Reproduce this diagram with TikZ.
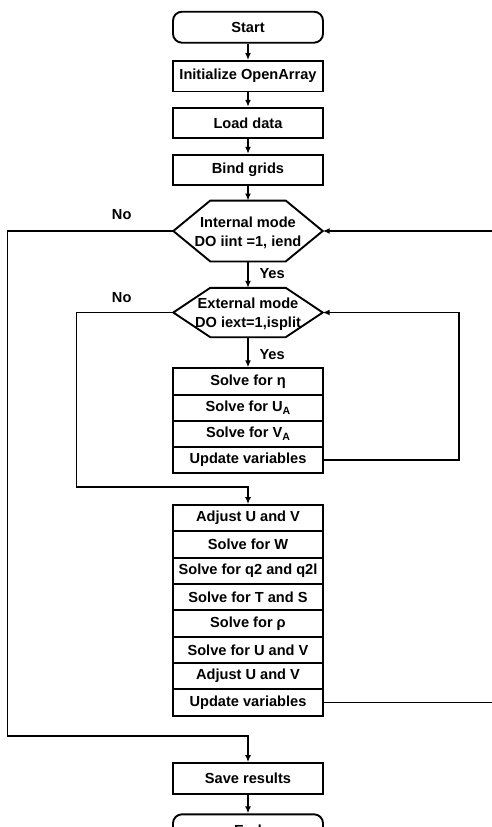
\documentclass[tikz,border=0pt]{standalone}
\usepackage{fontspec}
\setmainfont{Liberation Sans}
\usetikzlibrary{arrows.meta,calc}
\newcommand{\lsub}[1]{\raisebox{-0.4ex}{\fontsize{10.5}{10.5}\selectfont #1}}
\begin{document}
\begin{tikzpicture}[x=1pt,y=-1pt,
  txt/.style={font=\fontsize{14.6}{18.7}\selectfont\bfseries},
  box/.style={txt,draw,line width=1.9pt,minimum width=150pt,inner sep=0pt,anchor=center},
  row/.style={box,minimum height=26.3pt},
  single/.style={box,minimum height=30.5pt},
  term/.style={box,rounded corners=9pt,minimum height=31pt},
  hexbox/.style={minimum width=149pt,inner sep=0pt},
  hextext/.style={txt,align=center,inner sep=0pt},
  hexline/.style={line width=1.9pt},
  conn/.style={line width=1.9pt,-{Latex[length=7pt,width=6pt]}},
  lab/.style={txt}]
\clip (0,0) rectangle (492,827);
\fill[white] (0,0) rectangle (492,827);

% top sequence
\node[term]   (start) at (248,27.2)  {Start};
\node[single] (init)  at (248,76.2)  {Initialize OpenArray};
\node[single] (load)  at (248,123)   {Load data};
\node[single] (bind)  at (248,170)   {Bind grids};

% hexagons
\node[hexbox,minimum height=60.5pt] (ihex) at (248,231) {};
\draw[hexline] (ihex.west) -- ($(ihex.north west)+(37,0)$) -- ($(ihex.north east)+(-37,0)$)
  -- (ihex.east) -- ($(ihex.south east)+(-37,0)$) -- ($(ihex.south west)+(37,0)$) -- cycle;
\node[hextext] (ihext) at (248,232.5) {Internal mode\\DO iint =1, iend};
\node[hexbox,minimum height=49pt] (ehex) at (248,312.5) {};
\draw[hexline] (ehex.west) -- ($(ehex.north west)+(37,0)$) -- ($(ehex.north east)+(-37,0)$)
  -- (ehex.east) -- ($(ehex.south east)+(-37,0)$) -- ($(ehex.south west)+(37,0)$) -- cycle;
\node[hextext] (ehext) at (248,314) {External mode\\DO iext=1,isplit};

% external-mode block
\node[row] (r1a) at (248,381.4) {Solve for η};
\node[row] (r1b) at (248,407.7) {Solve for U\lsub{A}};
\node[row] (r1c) at (248,433.9) {Solve for V\lsub{A}};
\node[row] (r1d) at (248,460.2) {Update variables};

% internal-mode block
\node[row] (r2a) at (248,518.2) {Adjust U and V};
\node[row] (r2b) at (248,544.5) {Solve for W};
\node[row] (r2c) at (248,570.8) {Solve for q2 and q2l};
\node[row] (r2d) at (248,597.2) {Solve for T and S};
\node[row] (r2e) at (248,623.5) {Solve for ρ};
\node[row] (r2f) at (248,649.8) {Solve for U and V};
\node[row] (r2g) at (248,676.2) {Adjust U and V};
\node[row] (r2h) at (248,702.5) {Update variables};

% end
\node[single] (save) at (248,778.3) {Save results};
\node[term]   (end)  at (248,829.8) {End};

% helper coordinates
\coordinate (eL) at (76.5,486.7);
\coordinate (iL) at (7.5,735.7);
\coordinate (eR) at (459,460.2);
\coordinate (iR) at (494,702.5);

% connectors
\draw[conn] (start) -- (init);
\draw[conn] (init) -- (load);
\draw[conn] (load) -- (bind);
\draw[conn] (bind) -- (ihex.north);
\draw[conn] (ihex.south) -- (ehex.north);
\draw[conn] (ehex.south) -- (r1a.north);
\draw[conn] (r1d.east) -- (eR) |- (ehex.east);
\draw[conn] (ehex.west) -| (eL) -| (r2a.north);
\draw[conn] (r2h.east) -- (iR) |- (ihex.east);
\draw[conn] (ihex.west) -| (iL) -| (save.north);
\draw[conn] (save) -- (end);

% labels
\node[lab] (no1)  at (121.7,215) {No};
\node[lab] (no2)  at (121.7,298) {No};
\node[lab,anchor=west] (yes1) at (256,273.5) {Yes};
\node[lab,anchor=west] (yes2) at (256,354.5) {Yes};
\end{tikzpicture}
\end{document}
